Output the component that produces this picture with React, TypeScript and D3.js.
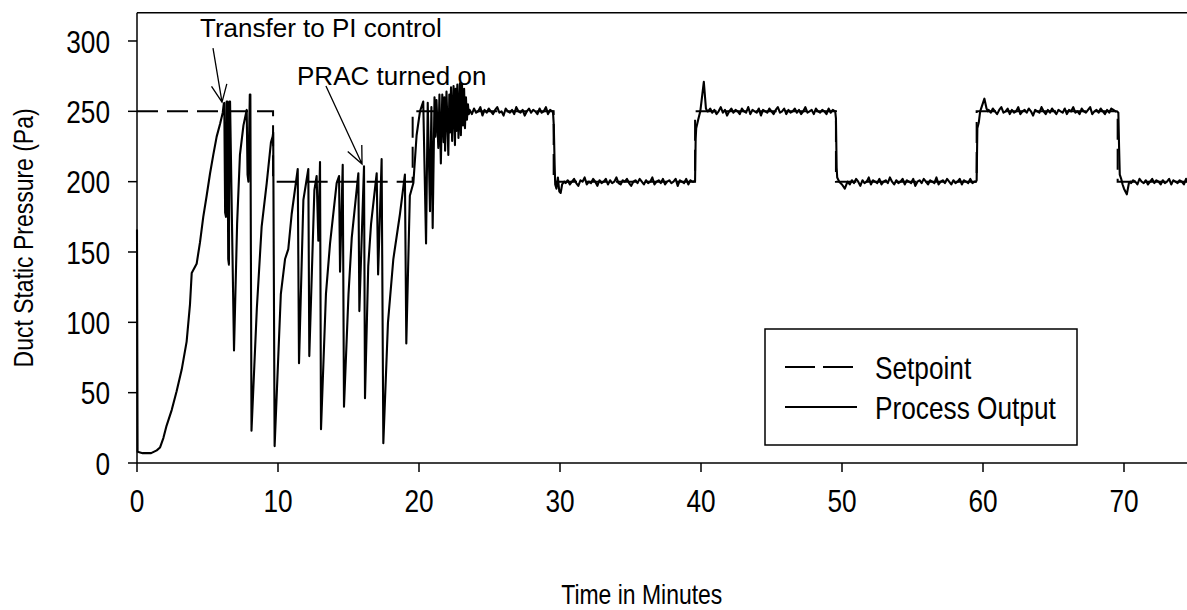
import React from "react";
import * as d3 from "d3";

// ---------- DATA ----------
const xTicks = [0, 10, 20, 30, 40, 50, 60, 70];
const yTicks = [0, 50, 100, 150, 200, 250, 300];

// Setpoint (step changes)
const setpointTimes = [0, 9.65, 9.65, 19.55, 19.55, 29.55, 29.55, 39.58, 39.58, 49.57, 49.57, 59.55, 59.55, 69.55, 69.55, 75];
const setpointValues = [250, 250, 200, 200, 250, 250, 200, 200, 250, 250, 200, 200, 250, 250, 200, 200];

// Process output: start-up and tuning period [minute, Pa]
const startupPoints: [number, number][] = [
  [0, 166], [0.04, 8], [0.4, 7], [1.0, 7], [1.4, 9], [1.63, 11], [1.87, 17.7], [2.1, 26.6], [2.46, 37.6],
  [2.81, 51], [3.17, 66.4], [3.52, 86.3], [3.76, 113], [3.88, 135], [4.23, 141.6], [4.47, 157], [4.7, 175],
  [4.94, 190], [5.18, 205.8], [5.41, 219], [5.65, 232], [5.89, 241], [6.08, 249], [6.15, 255], [6.19, 256],
  [6.25, 178], [6.31, 175], [6.36, 257], [6.41, 257], [6.47, 145], [6.52, 141], [6.56, 257], [6.6, 257],
  [6.88, 80], [7.1, 170], [7.3, 219], [7.55, 240], [7.78, 251], [7.84, 205], [7.9, 200], [8.0, 262],
  [8.04, 262], [8.12, 23], [8.5, 110], [8.84, 168], [9.2, 199], [9.5, 228], [9.62, 232], [9.66, 235],
  [9.76, 12], [10.2, 120], [10.5, 145], [10.73, 152], [10.97, 177], [11.4, 209], [11.49, 71], [11.8, 187],
  [12.15, 209], [12.22, 76], [12.58, 194], [12.74, 204], [12.86, 158], [12.98, 214], [13.05, 24], [13.4, 120],
  [13.69, 156], [14.16, 199], [14.33, 204], [14.4, 136], [14.59, 212], [14.68, 40], [15.0, 120], [15.23, 160],
  [15.7, 206], [15.77, 108], [16.1, 211], [16.17, 46], [16.4, 140], [16.6, 170], [17.0, 206], [17.1, 134],
  [17.35, 216], [17.47, 14], [17.8, 100], [18.18, 145], [18.65, 177], [19.0, 205], [19.1, 85], [19.35, 190],
  [19.6, 199], [19.83, 233], [20.07, 250], [20.3, 257], [20.5, 156], [20.62, 256], [20.78, 179], [20.88, 253],
  [20.97, 167], [21.1, 260], [21.17, 232], [21.24, 258], [21.37, 224], [21.45, 262], [21.55, 213], [21.65, 262],
  [21.75, 228], [21.8, 260], [21.85, 222], [21.95, 264], [22.08, 219], [22.15, 262], [22.2, 235], [22.27, 267],
  [22.35, 229], [22.45, 268], [22.55, 226], [22.6, 266], [22.65, 236], [22.72, 269], [22.8, 231], [22.9, 270],
  [22.97, 233], [23.05, 269], [23.12, 240], [23.2, 266], [23.26, 238], [23.33, 260], [23.4, 244], [23.47, 255],
  [23.53, 248],
];

// Steady plateaus sampled every 0.15 min
const sampleStep = 0.15;
const plateauStarts = [23.6, 30.4, 40.5, 50.4, 60.4, 70.5];
const plateau1Values = [251,248,252,249,250,253,247,251,249,252,250,248,251,253,249,250,247,252,250,249,251,248,253,250,249,251,247,250,252,249,251,250,248,252,249,250,253,248,251,250];
const plateau2Values = [199,201,198,200,202,199,197,201,200,203,198,200,199,202,200,197,201,199,200,202,198,201,199,200,203,199,198,201,200,202,199,197,200,201,199,202,200,198,201,199,200,203,198,200,201,199,202,198,200,201,199,200,202,197,201,200,199,202,198,201,200];
const plateau3Values = [250,252,249,251,248,250,253,249,251,247,250,252,249,251,250,248,252,250,249,253,248,251,250,249,252,247,251,250,249,252,250,248,251,253,249,250,252,248,251,249,250,252,249,251,248,250,253,249,250,251,248,252,250,249,251,250,248,252,249,251,250];
const plateau4Values = [200,198,201,199,202,200,197,201,199,200,203,198,201,200,199,202,198,200,201,199,203,200,198,201,199,200,202,198,201,200,199,202,197,200,201,199,202,200,198,201,200,199,203,198,200,201,199,202,200,198,201,199,200,202,198,201,200,199,202,199,200];
const plateau5Values = [251,249,252,250,248,251,253,249,250,252,248,251,249,250,253,248,250,251,249,252,250,247,251,250,249,253,250,248,251,249,252,250,248,251,250,249,252,248,251,250,253,249,250,248,252,250,249,251,253,248,250,251,249,252,250,248,251,249,252,251,250];
const plateau6Values = [199,201,200,198,202,200,199,201,198,200,202,199,201,200,198,201,199,200,202,198,201,200,199,201,200,198,202,199,200,201,200];

// Step transitions [minute, Pa]
const transition1: [number, number][] = [[29.5, 250], [29.56, 240], [29.62, 212], [29.66, 198], [29.75, 195], [29.85, 203], [29.95, 193], [30.05, 192], [30.15, 198], [30.3, 200]];
const transition2: [number, number][] = [[39.5, 200], [39.58, 201], [39.62, 230], [39.66, 238], [39.8, 244], [39.95, 250], [40.2, 271], [40.35, 252], [40.45, 250]];
const transition3: [number, number][] = [[49.52, 250], [49.57, 245], [49.62, 210], [49.66, 203], [49.8, 200], [50.0, 198], [50.2, 195], [50.35, 199]];
const transition4: [number, number][] = [[59.5, 200], [59.55, 201], [59.6, 238], [59.7, 242], [59.8, 250], [60.1, 259], [60.25, 252], [60.35, 250]];
const transition5: [number, number][] = [[69.5, 250], [69.6, 249], [69.65, 225], [69.7, 205], [69.8, 202], [69.9, 198], [70.0, 195], [70.2, 191], [70.35, 199], [70.45, 200]];

// Annotations (data coordinates)
const annotationTexts = ["Transfer to PI control", "PRAC turned on"];
const annotationTextPos: [number, number][] = [[4.47, 303], [11.35, 269]];
const annotationArrowFrom: [number, number][] = [[5.39, 295], [13.4, 268]];
const annotationArrowTo: [number, number][] = [[6.03, 256.5], [15.96, 212.5]];

const legendLabels = ["Setpoint", "Process Output"];

// ---------- LAYOUT ----------
const W = 1187;
const H = 610;
const SANS = "'Liberation Sans', Arial, sans-serif";
const NARROW_SCALE = 0.82;

function buildProcess(): [number, number][] {
  const plateaus = [plateau1Values, plateau2Values, plateau3Values, plateau4Values, plateau5Values, plateau6Values];
  const transitions = [transition1, transition2, transition3, transition4, transition5];
  const pts: [number, number][] = [...startupPoints];
  plateaus.forEach((vals, i) => {
    vals.forEach((v, j) => pts.push([plateauStarts[i] + j * sampleStep, v]));
    if (transitions[i]) pts.push(...transitions[i]);
  });
  return pts;
}

function NarrowText(props: {
  x: number;
  y: number;
  size: number;
  anchor?: "start" | "middle" | "end";
  rotate?: number;
  dy?: string;
  children: React.ReactNode;
}) {
  const { x, y, size, anchor = "start", rotate = 0, dy, children } = props;
  return (
    <text
      transform={`translate(${x},${y}) rotate(${rotate}) scale(${NARROW_SCALE},1)`}
      textAnchor={anchor}
      dy={dy}
      fontFamily={SANS}
      fontSize={size}
      fill="#000"
    >
      {children}
    </text>
  );
}

export default function App() {
  const x = d3.scaleLinear().domain([0, 75]).range([137, 137 + 75 * 14.1]);
  const y = d3.scaleLinear().domain([0, 320]).range([463, 463 - 320 * 1.4067]);

  const line = d3.line<[number, number]>().x((d) => x(d[0])).y((d) => y(d[1]));
  const processPath = line(buildProcess()) || "";
  const setpointPath = line(setpointTimes.map((t, i) => [t, setpointValues[i]] as [number, number])) || "";

  const x0 = x(0);
  const y0 = y(0);

  const arrowHead = (from: [number, number], to: [number, number]) => {
    const fx = x(from[0]), fy = y(from[1]), tx = x(to[0]), ty = y(to[1]);
    const ang = Math.atan2(ty - fy, tx - fx);
    const len = 19, spread = 0.42;
    const p1 = [tx - len * Math.cos(ang - spread), ty - len * Math.sin(ang - spread)];
    const p2 = [tx - len * Math.cos(ang + spread), ty - len * Math.sin(ang + spread)];
    return `M${fx},${fy}L${tx},${ty}M${p1[0]},${p1[1]}L${tx},${ty}L${p2[0]},${p2[1]}`;
  };

  return (
    <svg width={W} height={H} style={{ position: "absolute", left: 0, top: 0, background: "#fff" }}>
      {/* frame top */}
      <line x1={x0} x2={W + 20} y1={y(320)} y2={y(320)} stroke="#000" strokeWidth={1.5} />
      {/* axes */}
      <line x1={x0} x2={x0} y1={y(320)} y2={y0} stroke="#000" strokeWidth={1.5} />
      <line x1={x0} x2={W + 20} y1={y0} y2={y0} stroke="#000" strokeWidth={1.5} />
      {yTicks.map((t) => (
        <g key={"y" + t}>
          <line x1={x0 - 9} x2={x0} y1={y(t)} y2={y(t)} stroke="#000" strokeWidth={1.5} />
          <NarrowText x={x0 - 27} y={y(t)} dy="0.36em" anchor="end" size={32}>
            {t}
          </NarrowText>
        </g>
      ))}
      {xTicks.map((t) => (
        <g key={"x" + t}>
          <line x1={x(t)} x2={x(t)} y1={y0} y2={y0 + 9} stroke="#000" strokeWidth={1.5} />
          <NarrowText x={x(t)} y={y0 + 49} anchor="middle" size={32}>
            {t}
          </NarrowText>
        </g>
      ))}
      <NarrowText x={x(35.8)} y={604} anchor="middle" size={28}>
        Time in Minutes
      </NarrowText>
      <NarrowText x={33} y={y(160)} anchor="middle" size={28} rotate={-90}>
        Duct Static Pressure (Pa)
      </NarrowText>

      {/* series */}
      <path d={setpointPath} fill="none" stroke="#000" strokeWidth={2} strokeDasharray="21,9" />
      <path d={processPath} fill="none" stroke="#000" strokeWidth={2.1} strokeLinejoin="round" />

      {/* annotations */}
      {annotationTexts.map((s, i) => (
        <g key={"a" + i}>
          <text x={x(annotationTextPos[i][0])} y={y(annotationTextPos[i][1])} fontFamily={SANS} fontSize={26} fill="#000">
            {s}
          </text>
          <path d={arrowHead(annotationArrowFrom[i], annotationArrowTo[i])} fill="none" stroke="#000" strokeWidth={1.3} />
        </g>
      ))}

      {/* legend */}
      <rect x={765} y={329} width={312} height={116} fill="#fff" stroke="#000" strokeWidth={1.5} />
      <line x1={785} x2={857} y1={367} y2={367} stroke="#000" strokeWidth={2} strokeDasharray="30,8" />
      <line x1={785} x2={857} y1={407} y2={407} stroke="#000" strokeWidth={2} />
      {legendLabels.map((s, i) => (
        <NarrowText key={s} x={875} y={367 + i * 40} dy="0.36em" size={32}>
          {s}
        </NarrowText>
      ))}
    </svg>
  );
}
